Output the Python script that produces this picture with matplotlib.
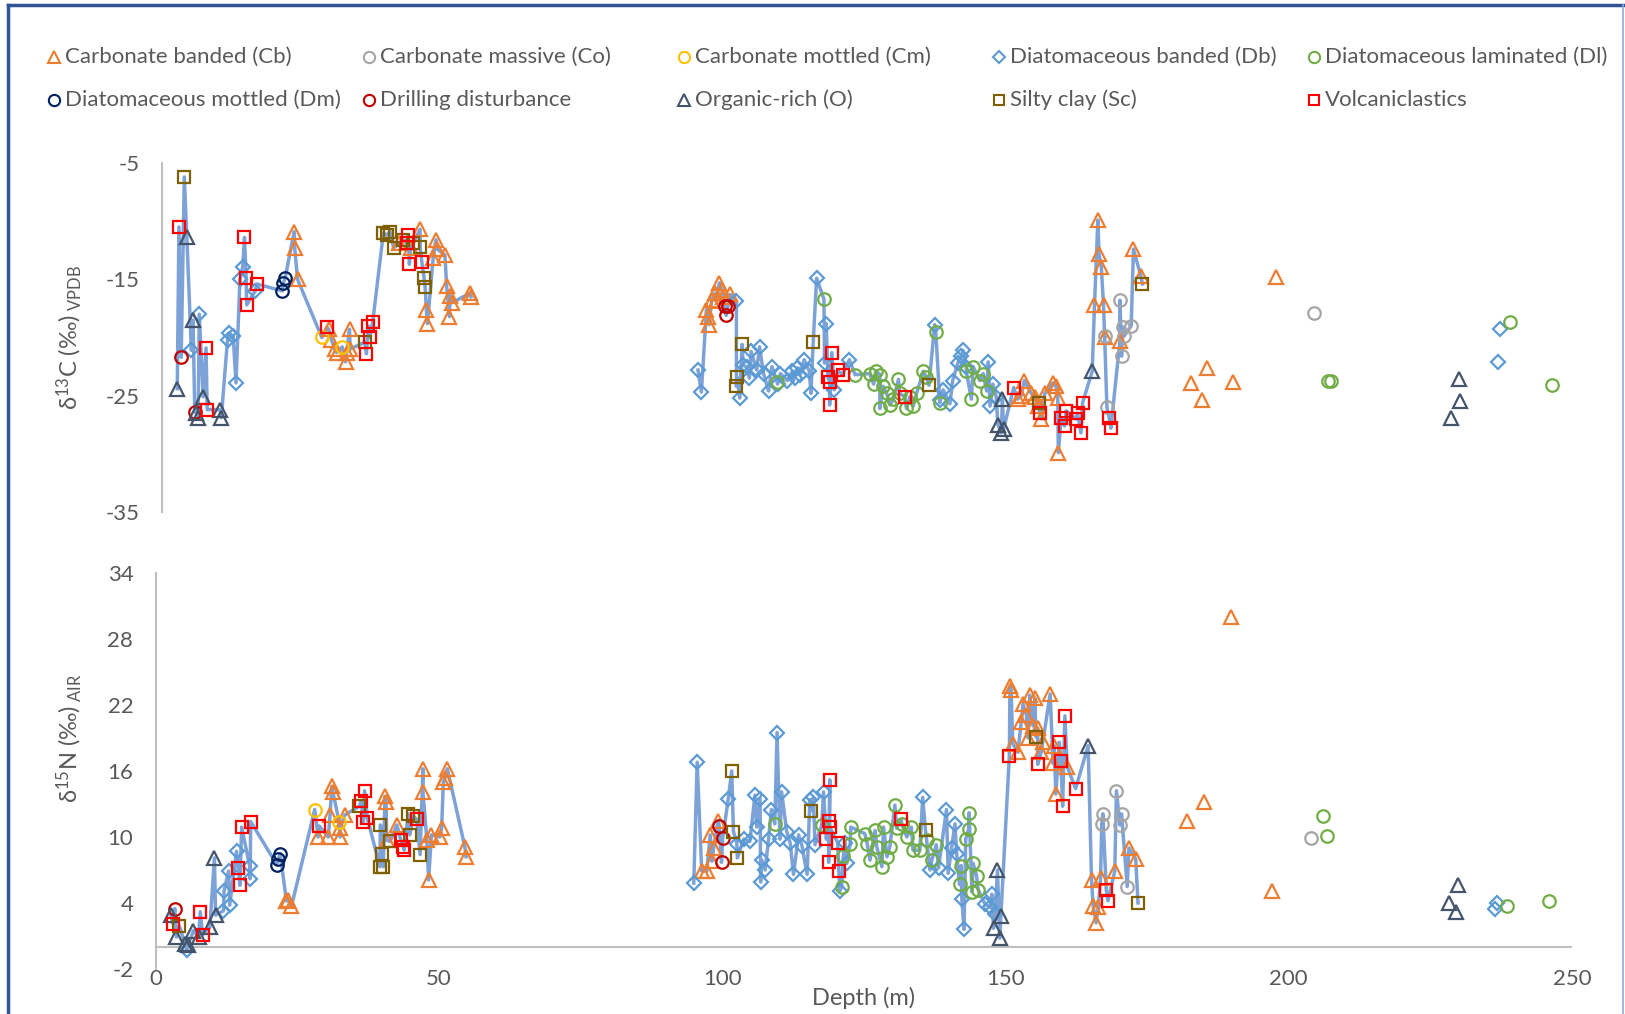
import matplotlib
matplotlib.use("Agg")
import matplotlib.pyplot as plt
from matplotlib.lines import Line2D

plt.rcParams['font.family'] = ['Lato', 'DejaVu Sans']
plt.rcParams['mathtext.fontset'] = 'custom'
plt.rcParams['mathtext.rm'] = 'Lato'
plt.rcParams['mathtext.it'] = 'Lato:italic'
plt.rcParams['axes.unicode_minus'] = False

# ==========================================================
# Data : (depth m, value) per lithology
# ==========================================================

# --- delta 13C (permil VPDB) ---
c13_cb = [(23.4, -10.9), (23.5, -12.3), (24.0, -15.0), (29.5, -19.3), (30.0, -20.2), (30.6, -21.0),
          (30.9, -21.3), (32.7, -21.3), (33.2, -19.3), (33.3, -21.0), (32.5, -22.1), (42.0, -11.9),
          (44.0, -12.3), (45.7, -10.7), (46.8, -17.6), (47.0, -18.8), (48.5, -11.6), (48.7, -12.4),
          (48.0, -13.2), (50.1, -12.9), (50.4, -15.6), (51.0, -16.4), (51.4, -17.0), (50.9, -18.2),
          (54.5, -16.2), (54.7, -16.5),
          (96.4, -17.6), (96.9, -18.9), (96.7, -18.2), (97.3, -16.8), (97.9, -16.2), (98.7, -15.3),
          (99.1, -15.9), (99.4, -16.5), (100.6, -16.3), (98.1, -16.9),
          (151.5, -25.3), (152.1, -25.0), (152.7, -23.7), (153.9, -24.8), (154.5, -25.1), (155.1, -25.9),
          (155.7, -27.0), (156.3, -24.8), (157.7, -23.9), (158.3, -24.2), (158.6, -25.2), (158.7, -29.9),
          (165.1, -17.2), (165.7, -9.9), (165.9, -12.8), (166.3, -13.9), (166.7, -17.2), (166.9, -20.0),
          (169.6, -20.3), (172.0, -12.4), (173.3, -14.7),
          (182.1, -23.9), (184.2, -25.4), (185.1, -22.6), (189.7, -23.8), (197.2, -14.8)]
c13_co = [(166.9, -19.9), (167.3, -26.0), (169.6, -16.8), (169.9, -21.6), (170.1, -19.1), (170.3, -19.9),
          (171.6, -19.0), (203.9, -17.9)]
c13_cm = [(28.3, -20.0), (31.9, -20.8)]
c13_db = [(5.2, -21.1), (6.6, -18.0), (11.6, -20.2), (11.9, -19.6), (12.6, -19.9), (13.1, -23.9),
          (13.8, -15.0), (14.3, -13.9), (16.5, -16.0),
          (94.9, -22.8), (95.5, -24.7), (101.7, -16.9), (102.3, -25.2), (102.9, -22.4), (103.5, -22.5),
          (104.0, -23.5), (104.3, -21.2), (105.3, -22.8), (105.8, -20.8), (106.5, -23.1), (107.4, -24.6),
          (108.0, -22.5), (109.0, -24.0), (109.5, -23.1), (110.7, -23.7), (111.6, -22.9), (112.0, -23.5),
          (112.5, -22.6), (113.0, -23.2), (113.7, -21.9), (114.6, -22.9), (114.9, -24.8), (115.9, -14.9),
          (117.3, -22.2), (117.6, -18.8), (119.0, -24.5), (121.7, -21.9), (136.8, -18.9), (137.7, -25.4),
          (138.3, -24.5), (139.5, -25.7), (140.0, -23.7), (140.9, -22.2), (141.5, -21.6), (141.8, -21.1),
          (142.4, -22.5), (146.3, -22.1), (146.6, -25.9), (147.1, -24.0), (147.7, -25.1),
          (236.6, -22.1), (236.9, -19.3)]
c13_dl = [(108.9, -23.8), (117.2, -16.7), (122.7, -23.2), (125.3, -23.1), (126.0, -24.0), (126.5, -22.9),
          (127.1, -23.2), (127.7, -24.2), (128.3, -24.8), (127.1, -26.1), (128.9, -25.8), (129.5, -25.3),
          (130.4, -23.6), (130.6, -24.8), (131.8, -26.1), (132.4, -25.1), (133.0, -25.9), (133.6, -24.8),
          (134.8, -22.9), (135.3, -23.4), (137.0, -19.5), (137.7, -25.6), (142.4, -22.9), (143.3, -25.3),
          (143.6, -22.5), (144.8, -23.7), (145.4, -23.1), (146.0, -24.6),
          (206.4, -23.7), (207.0, -23.7), (238.6, -18.7), (246.1, -24.1)]
c13_dm = [(21.3, -16.0), (21.5, -15.3), (21.8, -14.9)]
c13_dd = [(3.4, -21.7), (5.8, -26.4), (99.6, -17.3), (99.9, -18.1), (100.2, -17.3)]
c13_o = [(2.7, -24.4), (4.4, -11.4), (5.5, -18.5), (6.1, -26.5), (6.4, -26.9), (7.3, -25.1),
         (10.3, -26.2), (10.5, -26.9), (148.0, -27.5), (148.6, -28.2), (148.8, -25.3), (149.0, -27.9),
         (164.7, -22.9), (228.3, -26.9), (229.6, -23.6), (229.9, -25.5)]
c13_sc = [(3.95, -6.2), (35.9, -20.4), (39.2, -11.0), (39.8, -11.2), (40.4, -10.9), (41.0, -12.3),
          (42.7, -11.6), (44.5, -11.9), (45.7, -12.2), (46.4, -14.9), (46.6, -15.7), (101.7, -24.2),
          (101.8, -23.4), (102.7, -20.6), (115.3, -20.4), (135.8, -24.1), (155.2, -25.6), (173.6, -15.4)]
c13_vc = [(3.0, -10.5), (7.8, -20.9), (8.0, -26.2), (14.6, -11.4), (14.9, -14.9), (15.0, -17.2),
          (16.8, -15.4), (29.2, -19.1), (36.2, -21.4), (36.5, -19.0), (36.8, -20.0), (37.3, -18.7),
          (43.3, -11.9), (43.6, -11.2), (43.8, -13.7), (46.0, -13.5), (117.9, -23.4), (118.2, -23.8),
          (118.2, -25.8), (118.6, -21.3), (119.6, -22.8), (120.5, -23.2), (131.5, -25.1), (150.8, -24.3),
          (155.4, -26.5), (159.2, -26.9), (159.8, -27.6), (160.1, -26.3), (161.8, -27.0), (162.1, -26.5),
          (162.7, -28.2), (163.0, -25.6), (167.7, -26.9), (168.0, -27.8)]

# --- delta 15N (permil AIR) ---
n15_cb = [(23.1, 4.2), (23.4, 4.3), (24.0, 3.7), (28.7, 10.0), (30.5, 10.0), (30.8, 12.0), (31.1, 14.6),
          (31.3, 14.1), (32.6, 10.0), (32.6, 10.8), (33.4, 12.0), (40.5, 13.7), (40.7, 13.2), (40.8, 9.7),
          (42.6, 11.1), (47.2, 16.2), (47.2, 14.1), (47.9, 9.7), (48.2, 6.1), (48.7, 10.2), (50.2, 10.0),
          (50.5, 10.8), (50.8, 15.0), (51.1, 15.4), (51.5, 16.2), (54.6, 9.1), (54.8, 8.2),
          (96.4, 6.9), (97.3, 6.9), (97.9, 10.2), (98.2, 7.8), (98.5, 9.0), (99.3, 11.5),
          (150.8, 23.7), (151.0, 23.4), (151.3, 18.5), (152.2, 17.7), (152.8, 20.5), (153.1, 22.1),
          (153.7, 21.1), (154.0, 19.0), (154.3, 22.9), (154.9, 20.1), (155.2, 22.6), (155.7, 19.9),
          (156.3, 17.7), (156.6, 18.6), (157.9, 23.0), (158.4, 16.7), (158.6, 18.3), (158.9, 13.9),
          (160.9, 16.4), (165.2, 6.1), (165.5, 3.7), (166.0, 2.2), (166.4, 3.6), (166.8, 6.3),
          (169.3, 6.9), (171.8, 9.0), (173.0, 8.0),
          (182.0, 11.5), (185.0, 13.2), (189.8, 30.0), (197.0, 5.1)]
n15_co = [(167.0, 11.2), (167.2, 12.1), (169.6, 14.2), (170.2, 11.1), (170.5, 12.1), (171.5, 5.5),
          (203.9, 9.9)]
n15_cm = [(28.1, 12.5), (32.4, 11.4)]
n15_db = [(5.5, -0.3), (12.0, 3.3), (12.1, 5.1), (12.9, 6.9), (13.1, 3.8), (14.3, 8.7), (16.6, 7.4),
          (16.7, 6.2),
          (95.0, 5.8), (95.6, 16.8), (101.1, 13.5), (102.6, 9.4), (103.8, 9.8), (104.9, 9.6), (105.8, 13.8),
          (106.1, 10.9), (106.7, 13.5), (106.8, 5.9), (107.0, 7.9), (107.6, 7.0), (108.2, 9.8),
          (108.7, 12.5), (109.7, 19.5), (110.2, 9.8), (110.5, 14.1), (111.4, 10.5), (112.0, 9.5),
          (112.6, 6.6), (113.5, 10.2), (114.1, 9.2), (115.0, 6.6), (115.5, 13.4), (116.1, 13.6),
          (116.4, 9.3), (117.9, 14.1), (120.8, 5.1), (121.7, 9.5), (122.0, 7.6), (135.4, 13.6),
          (136.7, 7.0), (138.2, 7.2), (139.6, 12.5), (139.9, 6.7), (140.5, 9.0), (141.1, 11.2),
          (141.4, 8.5), (142.3, 4.4), (142.7, 1.6), (146.4, 3.9), (147.3, 3.6), (147.6, 4.8), (148.2, 3.0),
          (236.4, 3.5), (236.7, 4.0)]
n15_dl = [(109.3, 11.2), (117.6, 11.1), (121.1, 5.5), (121.4, 8.3), (122.6, 9.4), (122.7, 10.9),
          (125.2, 10.3), (125.6, 9.4), (126.1, 7.9), (127.0, 10.6), (127.3, 9.1), (128.2, 7.3),
          (128.5, 10.9), (129.1, 8.2), (129.6, 9.1), (130.5, 12.9), (130.8, 10.8), (131.7, 11.2),
          (132.6, 10.0), (133.4, 10.9), (133.7, 8.8), (134.9, 8.8), (136.1, 9.7), (137.0, 7.9),
          (137.8, 9.3), (141.9, 5.7), (142.2, 7.4), (143.0, 9.8), (143.5, 10.7), (143.6, 12.2),
          (144.1, 5.0), (144.3, 7.6), (144.9, 6.5), (145.2, 5.2),
          (206.1, 11.9), (206.7, 10.1), (238.5, 3.7), (246.0, 4.2)]
n15_dm = [(21.4, 7.5), (21.7, 8.0), (22.0, 8.5)]
n15_dd = [(3.4, 3.5), (99.5, 11.0), (99.9, 7.7), (100.1, 9.9)]
n15_o = [(2.7, 2.9), (3.7, 0.9), (5.2, 0.3), (5.8, 0.2), (6.7, 1.5), (7.6, 0.9), (9.6, 1.8),
         (10.4, 8.1), (10.6, 2.9), (147.9, 1.7), (148.6, 7.0), (149.0, 0.8), (149.2, 2.8), (164.6, 18.3),
         (228.3, 4.0), (229.6, 3.2), (229.9, 5.6)]
n15_sc = [(4.2, 1.9), (36.0, 12.8), (39.6, 7.3), (39.7, 11.1), (40.0, 8.5), (40.2, 7.3), (41.4, 9.6),
          (44.6, 12.1), (44.9, 10.2), (45.5, 11.9), (46.7, 8.4), (101.7, 16.0), (102.0, 10.5),
          (102.7, 8.1), (115.7, 12.4), (135.9, 10.6), (155.4, 19.1), (173.4, 4.0)]
n15_vc = [(3.1, 2.1), (7.9, 3.2), (8.3, 1.1), (14.6, 7.2), (14.9, 5.6), (15.2, 10.9), (16.8, 11.4),
          (28.9, 11.0), (36.3, 13.3), (36.7, 11.4), (36.9, 14.2), (37.4, 11.7), (43.3, 9.7), (43.7, 9.1),
          (43.9, 8.8), (46.1, 11.6), (118.4, 9.8), (118.8, 11.5), (118.8, 7.7), (119.0, 15.2),
          (119.0, 10.9), (120.4, 9.5), (120.6, 6.9), (131.6, 11.6), (150.7, 17.4), (155.7, 16.6),
          (159.5, 18.6), (159.8, 16.9), (160.1, 12.8), (160.5, 21.0), (162.4, 14.4), (167.8, 5.2),
          (168.1, 4.2)]

# lithology legend
lith_names = ["Carbonate banded (Cb)", "Carbonate massive (Co)", "Carbonate mottled (Cm)",
              "Diatomaceous banded (Db)", "Diatomaceous laminated (Dl)", "Diatomaceous mottled (Dm)",
              "Drilling disturbance", "Organic-rich (O)", "Silty clay (Sc)", "Volcaniclastics"]
lith_colors = ["#ED7D31", "#A5A5A5", "#FFC000", "#5B9BD5", "#70AD47",
               "#002060", "#C00000", "#44546A", "#7F6000", "#FF0000"]
lith_markers = ["^", "o", "o", "D", "o", "o", "o", "^", "s", "s"]
lith_sizes = [10, 9, 9, 7.3, 9, 9, 9, 10, 8.5, 8.5]

c13_series = [c13_cb, c13_co, c13_cm, c13_db, c13_dl, c13_dm, c13_dd, c13_o, c13_sc, c13_vc]
n15_series = [n15_cb, n15_co, n15_cm, n15_db, n15_dl, n15_dm, n15_dd, n15_o, n15_sc, n15_vc]

# core sections joined by the profile line
sections = [(0, 60), (90, 176)]

line_col = "#7DA2D8"
txt_col = "#595959"
axis_col = "#BFBFBF"
fs = 16

# ==========================================================
# Figure
# ==========================================================

fig = plt.figure(figsize=(16.25, 10.14), dpi=100)

ax_c = fig.add_axes([162 / 1625, 1 - 512 / 1014, 1412 / 1625, 349 / 1014])
ax_n = fig.add_axes([155.5 / 1625, 1 - 969 / 1014, 1416.5 / 1625, 396 / 1014])


def draw_panel(ax, series):
    pts = sorted([p for s in series for p in s], key=lambda p: p[0])
    for lo, hi in sections:
        seg = [p for p in pts if lo <= p[0] < hi]
        ax.plot([p[0] for p in seg], [p[1] for p in seg],
                color=line_col, linewidth=2.5, zorder=1, solid_joinstyle="round")
    for s, col, mk, ms in zip(series, lith_colors, lith_markers, lith_sizes):
        ax.plot([p[0] for p in s], [p[1] for p in s], linestyle="none",
                marker=mk, markersize=ms, markerfacecolor="none",
                markeredgecolor=col, markeredgewidth=1.6, zorder=3)
    ax.set_xlim(0, 250)
    for side in ["top", "right", "bottom"]:
        ax.spines[side].set_visible(False)
    ax.spines["left"].set_color(axis_col)
    ax.spines["left"].set_linewidth(1.5)
    ax.tick_params(length=0, labelsize=fs, labelcolor=txt_col, pad=16)


draw_panel(ax_c, c13_series)
ax_c.set_ylim(-35, -5)
ax_c.set_yticks([-5, -15, -25, -35])
ax_c.set_xticks([])

draw_panel(ax_n, n15_series)
ax_n.set_ylim(-2, 34)
ax_n.set_yticks([-2, 4, 10, 16, 22, 28, 34])
ax_n.set_xticks([0, 50, 100, 150, 200, 250])
ax_n.axhline(0, color=axis_col, linewidth=1.5, zorder=0)
ax_n.tick_params(axis="x", pad=0)

fig.text(69 / 1625, 1 - 338 / 1014, r"δ$^{\mathrm{13}}$C (‰)$_{\mathrm{\ VPDB}}$",
         rotation=90, ha="center", va="center", fontsize=fs + 1, color=txt_col)
fig.text(69 / 1625, 1 - 738 / 1014, r"δ$^{\mathrm{15}}$N (‰)$_{\mathrm{\ AIR}}$",
         rotation=90, ha="center", va="center", fontsize=fs + 1, color=txt_col)
fig.text(864 / 1625, 1 - 998 / 1014, "Depth (m)", ha="center", va="center",
         fontsize=fs + 1, color=txt_col)

# legend, 2 rows x 5 columns
col_x = [54, 369, 684, 999, 1314]
row_y = [57, 99.5]
for i, name in enumerate(lith_names):
    x = col_x[i % 5] / 1625
    y = 1 - row_y[i // 5] / 1014
    fig.add_artist(Line2D([x], [y], transform=fig.transFigure, linestyle="none",
                          marker=lith_markers[i], markersize=lith_sizes[i] * 0.9,
                          markerfacecolor="none", markeredgecolor=lith_colors[i],
                          markeredgewidth=1.5))
    fig.text(x + 11 / 1625, y, name, ha="left", va="center", fontsize=fs, color=txt_col)

# chart border
fig.add_artist(Line2D([8 / 1625, 8 / 1625], [-0.01, 1 - 5 / 1014],
                      transform=fig.transFigure, color="#2F5597", linewidth=2.5))
fig.add_artist(Line2D([8 / 1625, 1623 / 1625], [1 - 5 / 1014, 1 - 5 / 1014],
                      transform=fig.transFigure, color="#2F5597", linewidth=2.5))
fig.add_artist(Line2D([1623 / 1625, 1623 / 1625], [-0.01, 1 - 5 / 1014],
                      transform=fig.transFigure, color="#8FAADC", linewidth=1.2))

fig.savefig("out.png", dpi=100)
